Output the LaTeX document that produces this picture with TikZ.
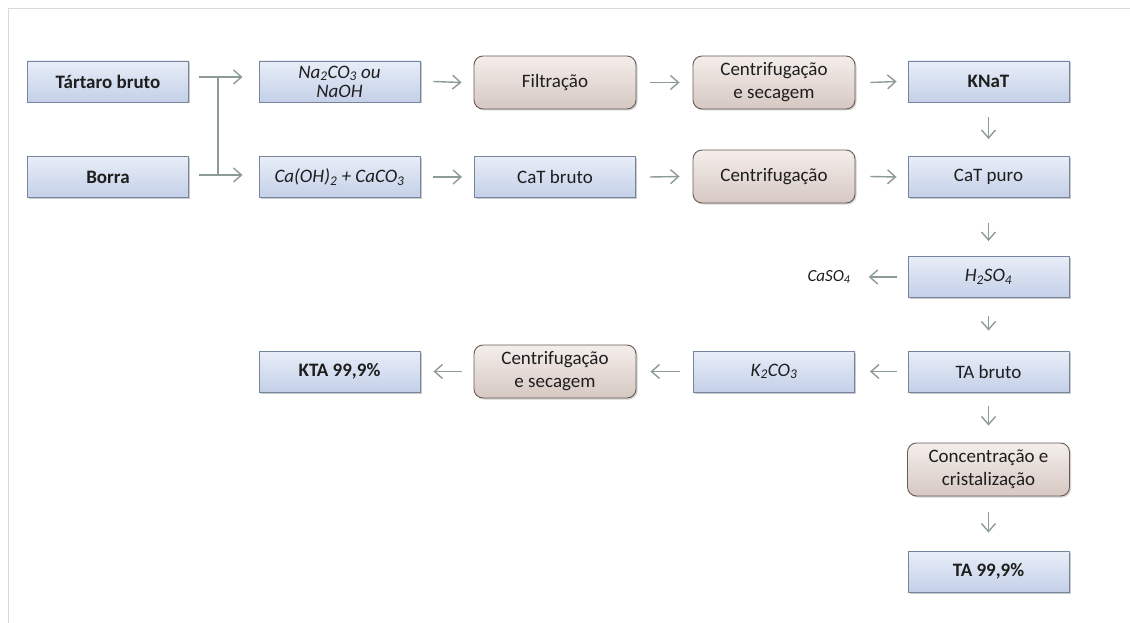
\documentclass[tikz,border=0pt]{standalone}
\usepackage{fontspec}
\setmainfont{Carlito}
\usetikzlibrary{arrows.meta,shadows}
\definecolor{arr}{RGB}{140,155,150}
\definecolor{bluetop}{RGB}{232,238,248}
\definecolor{bluebot}{RGB}{196,208,232}
\definecolor{blueedge}{RGB}{118,132,158}
\definecolor{browntop}{RGB}{244,238,235}
\definecolor{brownbot}{RGB}{214,200,194}
\definecolor{brownedge}{RGB}{105,90,85}
\definecolor{txt}{RGB}{30,30,30}
\tikzset{
  bbox/.style={draw=blueedge, line width=0.9pt, top color=bluetop, bottom color=bluebot,
    minimum width=161pt, minimum height=41pt, inner sep=1pt, align=center,
    font=\fontsize{19}{19}\selectfont, text=txt,
    drop shadow={shadow xshift=1.5pt, shadow yshift=-1.5pt, opacity=0.35, fill=black!60}},
  rbox/.style={draw=brownedge, line width=0.9pt, top color=browntop, bottom color=brownbot,
    rounded corners=9pt, minimum width=162pt, minimum height=53pt, inner sep=1pt, align=center,
    font=\fontsize{19}{23}\selectfont, text=txt,
    drop shadow={shadow xshift=1.5pt, shadow yshift=-1.5pt, opacity=0.3, fill=black!60}},
  ibox/.style={bbox, font=\fontsize{19}{19}\selectfont\itshape},
  flow/.style={draw=arr, line width=1.4pt, -{Straight Barb[length=8pt,width=14pt]}},
  plain/.style={draw=arr, line width=1.4pt},
}
\begin{document}
\begin{tikzpicture}[x=1pt,y=-1pt]
\useasboundingbox (0,0) rectangle (1130,623);
\draw[gray!30, line width=0.8pt] (8,623) -- (8,8) -- (1130,8);

% row 1
\node[bbox] (tb) at (108,81.5) {\textbf{Tártaro bruto}};
\node[ibox] (na) at (339.5,81.5) {Na\textsubscript{2}CO\textsubscript{3} ou\\NaOH};
\node[rbox] (fi) at (555,82.5) {Filtração};
\node[rbox] (cs1) at (774,82.5) {Centrifugação\\e secagem};
\node[bbox] (kn) at (988.5,81.5) {\textbf{KNaT}};
% row 2
\node[bbox] (bo) at (108,177) {\textbf{Borra}};
\node[ibox] (ca) at (339.5,177) {Ca(OH)\textsubscript{2} + CaCO\textsubscript{3}};
\node[bbox] (cb) at (555,177) {CaT bruto};
\node[rbox] (ce) at (774,176.5) {Centrifugação};
\node[bbox] (cp) at (988.5,177) {CaT puro};
% row 3
\node[ibox] (hs) at (988.5,277) {H\textsubscript{2}SO\textsubscript{4}};
\node[font=\fontsize{17}{17}\selectfont\itshape, text=txt, inner sep=1pt] (cso) at (829,277) {CaSO\textsubscript{4}};
% row 4
\node[bbox] (ta) at (988.5,371.5) {TA bruto};
\node[ibox] (kc) at (774,371.5) {K\textsubscript{2}CO\textsubscript{3}};
\node[rbox] (cs2) at (555,371.5) {Centrifugação\\e secagem};
\node[bbox] (kta) at (339.5,371.5) {\textbf{KTA 99,9\%}};
% row 5
\node[rbox] (cc) at (988.5,469.5) {Concentração e\\cristalização};
\node[bbox] (t99) at (988.5,571.5) {\textbf{TA 99,9\%}};

% split connector
\coordinate (s1) at ([xshift=10pt,yshift=4.5pt]tb.east);
\coordinate (s2) at ([xshift=10pt,yshift=2pt]bo.east);
\coordinate (e1) at ([xshift=-16pt]na.west |- s1);
\coordinate (e2) at ([xshift=-16pt]ca.west |- s2);
\coordinate (j) at (218,0 |- s1);
\coordinate (j2) at (218,0 |- s2);
\draw[plain] (j) -- (j2);
\draw[flow] (s1) -- (e1);
\draw[flow] (s2) -- (e2);

% horizontal arrows
\draw[flow] ([xshift=13pt]na.east) -- ([xshift=-12pt]fi.west);
\draw[flow] ([xshift=14pt]fi.east) -- ([xshift=-13pt]cs1.west);
\draw[flow] ([xshift=15pt]cs1.east) -- ([xshift=-11pt]kn.west);
\draw[flow] ([xshift=13pt]ca.east) -- ([xshift=-12pt]cb.west);
\draw[flow] ([xshift=14pt]cb.east) -- ([xshift=-13pt]ce.west);
\draw[flow] ([xshift=15pt]ce.east) -- ([xshift=-11pt]cp.west);

% vertical arrows
\draw[flow] ([yshift=-15pt]kn.south) -- ([yshift=17pt]cp.north);
\draw[flow] ([yshift=-25pt]cp.south) -- ([yshift=15pt]hs.north);
\draw[flow] ([yshift=-18pt]hs.south) -- ([yshift=20pt]ta.north);
\draw[flow] ([yshift=-14pt]ta.south) -- ([yshift=17pt]cc.north);
\draw[flow] ([yshift=-16pt]cc.south) -- ([yshift=18pt]t99.north);

% leftward arrows
\draw[flow] ([xshift=-11pt]hs.west) -- ([xshift=17pt]cso.east);
\draw[flow] ([xshift=-11pt]ta.west) -- ([xshift=15pt]kc.east);
\draw[flow] ([xshift=-13pt]kc.west) -- ([xshift=14pt]cs2.east);
\draw[flow] ([xshift=-12pt]cs2.west) -- ([xshift=13pt]kta.east);
\end{tikzpicture}
\end{document}
